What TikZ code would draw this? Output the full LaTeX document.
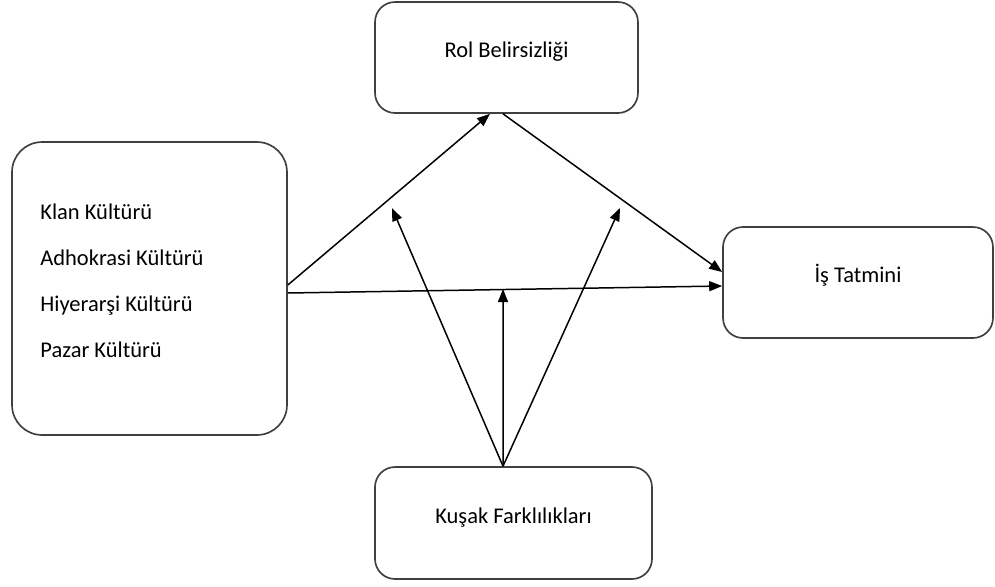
\documentclass[tikz,border=0pt]{standalone}
\usepackage{fontspec}
\setmainfont{Carlito}
\usetikzlibrary{arrows.meta}

\begin{document}
\begin{tikzpicture}[x=0.02cm,y=-0.02cm,
		box/.style={draw=black!75, line width=0.95pt, rounded corners=0.4cm, text height=0.3cm, text depth=0.3cm, font=\fontsize{12.8}{15}\selectfont},
		link/.style={line width=0.85pt, -{Triangle[length=0.26cm,width=0.2cm]}}]
		% the page
		\useasboundingbox (0,0) rectangle (995,586);

		% the boxes
		\node[box, minimum width=5.26cm, minimum height=2.22cm] (role) at (506.5,57.5) {Rol Belirsizliği};
		\node[box, minimum width=5.4cm, minimum height=2.22cm] (job) at (858,282.5) {İş Tatmini};
		\node[box, minimum width=5.54cm, minimum height=2.24cm] (gen) at (513.5,523) {Kuşak Farklılıkları};
		\node[box, rounded corners=0.6cm, minimum width=5.5cm, minimum height=5.86cm] (culture) at (149.5,288.5) {};
		\node[anchor=west, align=left, inner sep=0pt, font=\fontsize{12.8}{26.1}\selectfont] (kinds) at (40,281) {Klan Kültürü\\Adhokrasi Kültürü\\Hiyerarşi Kültürü\\Pazar Kültürü};

		% where the moderator arrows stop
		\coordinate (m1) at (392,208);
		\coordinate (m2) at (503,289);
		\coordinate (m3) at (620,208);

		\draw[link] ([yshift=0.07cm]culture.east) -- ([xshift=-0.33cm]role.south);
		\draw[link] ([xshift=-0.07cm]role.south) -- ([yshift=0.21cm]job.west);
		\draw[link] ([yshift=-0.09cm]culture.east) -- ([yshift=-0.07cm]job.west);
		%\draw[help lines] (0,0) grid (995,586);

		\draw[link] ([xshift=-0.21cm]gen.north) -- (m1);
		\draw[link] ([xshift=-0.21cm]gen.north) -- (m2);
		\draw[link] ([xshift=-0.21cm]gen.north) -- (m3);
	\end{tikzpicture}
\end{document}
